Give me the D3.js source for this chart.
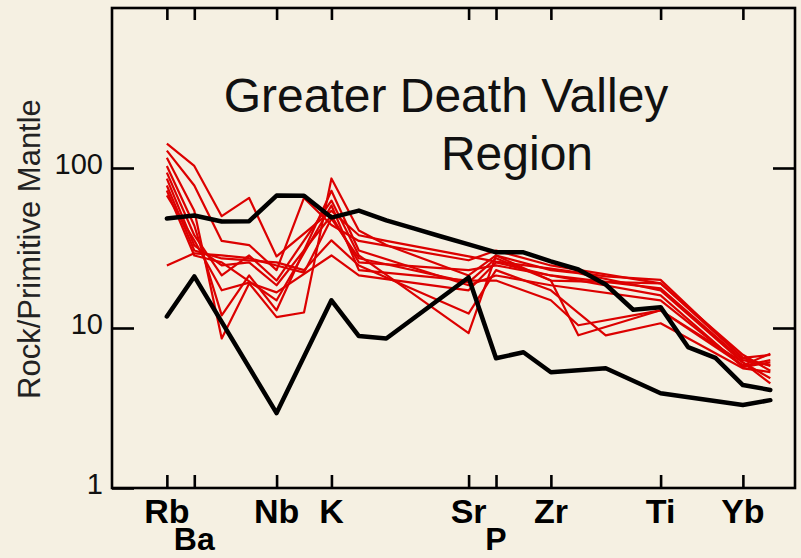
<!DOCTYPE html>
<html>
<head>
<meta charset="utf-8">
<script src="https://cdn.jsdelivr.net/npm/d3@7"></script>
<style>
  body { margin: 0; background: #f5f0e2; }
  svg { display: block; }
  text { font-family: "Liberation Sans", Arial, Helvetica, sans-serif; }
</style>
</head>
<body>
<script>
// element order along the x axis (primitive mantle spider diagram)
var elements = ["Rb","Ba","Th","U","Nb","Ta","K","La","Ce","Pb","Pr","Sr","P","Nd","Zr","Sm","Eu","Gd","Ti","Dy","Y","Yb","Lu"];
var labelsTop = ["Rb","Nb","K","Sr","Zr","Ti","Yb"];
var labelsLow = ["Ba","P"];
var yTicks = [1, 10, 100];

// black reference lines
var blackUpper = [48.3, 50.5, 46.3, 46.5, 67.3, 67, 49, 54.2, 47, 41.9, 37.3, 33.3, 29.7, 29.7, 26.1, 23.2, 18.7, 13, 13.5, 7.6, 6.5, 4.4, 4.1];
var blackLower = [11.8, 21, null, null, 2.94, null, 14.9, 8.9, 8.6, null, null, 20.7, 6.47, 7.05, 5.29, null, 5.6, null, 3.91, null, null, 3.3, 3.54];

// red sample lines, null = no vertex
var redA = [142, 103, 50, 65, 28, null, 54, 38, 35, null, null, 28, 26, null, 23.5, null, 21, null, 20, null, null, 6.5, 6.8];
var redB = [128.5, 77.7, 35, 33, 23, 65, 44, 35, null, null, null, 26.5, 30.5, null, 24.6, null, null, null, 19, null, null, 6.8, 5.4];
var redC = [116, 54, 8.6, 19, 11.7, 12.5, 86, 40.7, 33, null, null, 21.3, 28.4, null, 23, 22, null, null, 17.2, null, null, 6.1, 4.5];
var redD = [103, 43.7, 12, 21.3, 12.9, null, 72, 30.5, null, null, null, 18.5, 21.3, null, 18.5, null, null, null, 14.9, null, null, 5.8, 6.3];
var redE = [93.6, 38, 21.3, 28.4, 19.8, null, 62.6, 28.4, null, null, null, 9.3, 28.4, null, 19.8, 9, null, null, 12.9, null, null, 5.85, 6.9];
var redF = [85.9, 32.8, 24.6, 25.7, 18.5, null, 50.5, 25.7, null, null, null, 23, 24.6, null, 21.3, null, null, null, 17.7, null, null, 6.3, 5.85];
var redG = [77.7, 30.5, 27.2, null, 25.7, 23, 35.3, 24.6, null, null, null, 12.3, 23, null, 17.2, null, 9, null, 10.7, null, null, 5.6, 5.3];
var redH = [72.3, 28.4, 25.7, null, 14.9, null, 58.3, 23, null, null, null, 19.8, 19.8, null, 14.9, 10.4, null, null, 12.9, null, null, 6.1, 4.85];
var redI = [67.3, 35.3, 17.2, 19.2, 16.7, null, 28.4, 21.3, null, null, null, 17.2, 25.7, null, 21.3, null, null, null, 16, null, null, 5.7, 6.1];
var redJ = [24.6, 29.3, 28.4, 27.3, 24.6, 22.2, 48.3, 27.3, null, null, null, 19.3, 27.3, null, 19.8, null, null, null, 19, null, null, 6.5, 5.8];

var redSeries = [redA, redB, redC, redD, redE, redF, redG, redH, redI, redJ];
var blackSeries = [blackUpper, blackLower];

var W = 801, H = 558;
var pLeft = 112, pRight = 795, pTop = 8, pBottom = 488;

var svg = d3.select("body").append("svg")
    .attr("width", W)
    .attr("height", H);

svg.append("rect").attr("width", W).attr("height", H).attr("fill", "#f5f0e2");

var x = d3.scaleLinear().domain([-2, 22.9]).range([pLeft, pRight]);
var y = d3.scaleLog().domain([1, 1000]).range([pBottom, pTop]);

function pts(arr) {
    return arr.map(function (v, i) { return {i: i, v: v}; })
        .filter(function (d) { return d.v != null; });
}

var line = d3.line()
    .x(function (d) { return x(d.i); })
    .y(function (d) { return y(d.v); });

// red lines
svg.append("g").selectAll("path")
    .data(redSeries)
    .enter().append("path")
    .attr("d", function (s) { return line(pts(s)); })
    .attr("fill", "none")
    .attr("stroke", "#dc0000")
    .attr("stroke-width", 2.2)
    .attr("stroke-linejoin", "round");

// black lines on top
svg.append("g").selectAll("path")
    .data(blackSeries)
    .enter().append("path")
    .attr("d", function (s) { return line(pts(s)); })
    .attr("fill", "none")
    .attr("stroke", "#000")
    .attr("stroke-width", 4.5)
    .attr("stroke-linejoin", "round")
    .attr("stroke-linecap", "round");

var tickIdx = labelsTop.concat(labelsLow).map(function (e) { return elements.indexOf(e); });

// axes, ticks point inward
var gL = svg.append("g").attr("transform", "translate(" + pLeft + ",0)")
    .call(d3.axisLeft(y).tickValues(yTicks).tickSize(-22).tickPadding(9).tickFormat(d3.format("d")));
var gR = svg.append("g").attr("transform", "translate(" + pRight + ",0)")
    .call(d3.axisRight(y).tickValues([10, 100]).tickSize(-22).tickFormat(""));
var gB = svg.append("g").attr("transform", "translate(0," + pBottom + ")")
    .call(d3.axisBottom(x).tickValues(tickIdx).tickSize(-13).tickFormat(""));
var gT = svg.append("g").attr("transform", "translate(0," + pTop + ")")
    .call(d3.axisTop(x).tickValues(tickIdx).tickSize(-12).tickFormat(""));

[gL, gR, gB, gT].forEach(function (g) {
    g.select(".domain").remove();
    g.selectAll("line").attr("stroke", "#000").attr("stroke-width", 2.6);
});
gL.selectAll("text")
    .attr("font-size", 29)
    .attr("fill", "#111")
    .attr("dy", "0.2em")
    .style("font-family", "'Liberation Sans', Arial, sans-serif");

// frame
svg.append("rect")
    .attr("x", pLeft).attr("y", pTop)
    .attr("width", pRight - pLeft).attr("height", pBottom - pTop)
    .attr("fill", "none")
    .attr("stroke", "#000")
    .attr("stroke-width", 2.6);

// element labels
svg.append("g").selectAll("text")
    .data(labelsTop)
    .enter().append("text")
    .attr("x", function (d) { return x(elements.indexOf(d)); })
    .attr("y", 523)
    .attr("text-anchor", "middle")
    .attr("font-size", 34)
    .attr("font-weight", "bold")
    .text(function (d) { return d; });
svg.append("g").selectAll("text")
    .data(labelsLow)
    .enter().append("text")
    .attr("x", function (d) { return x(elements.indexOf(d)); })
    .attr("y", 550)
    .attr("text-anchor", "middle")
    .attr("font-size", 32)
    .attr("font-weight", "bold")
    .text(function (d) { return d; });

// y label
svg.append("text")
    .attr("transform", "translate(40,249) rotate(-90)")
    .attr("text-anchor", "middle")
    .attr("font-size", 31)
    .attr("fill", "#222")
    .text("Rock/Primitive Mantle");

// title
svg.append("text")
    .attr("x", 446).attr("y", 112)
    .attr("text-anchor", "middle")
    .attr("font-size", 48)
    .attr("fill", "#111")
    .text("Greater Death Valley");
svg.append("text")
    .attr("x", 517).attr("y", 170)
    .attr("text-anchor", "middle")
    .attr("font-size", 48)
    .attr("fill", "#111")
    .text("Region");
</script>
</body>
</html>
